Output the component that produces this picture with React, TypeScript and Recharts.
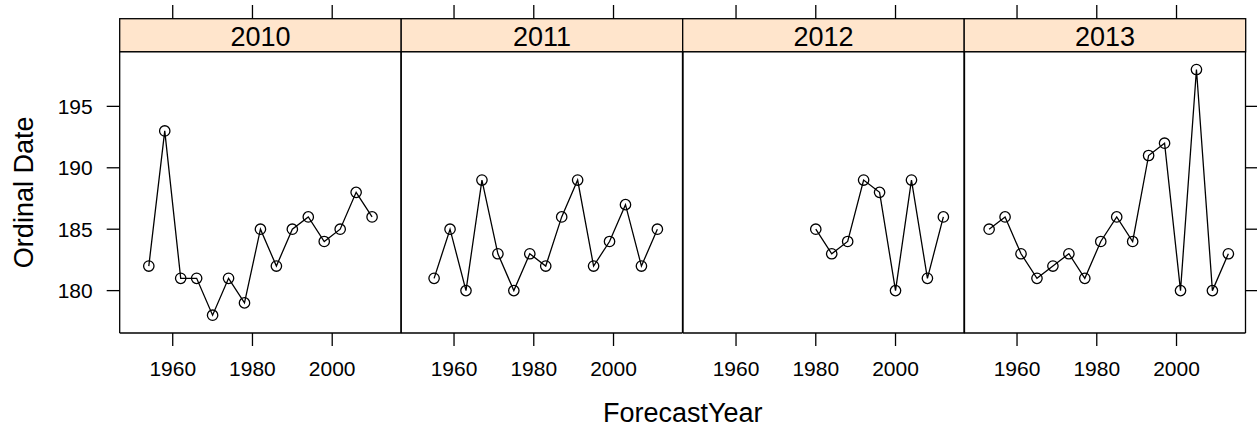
import React from "react";
import { LineChart, Line, XAxis, YAxis } from "recharts";

// panel titles
const panels = ["2010", "2011", "2012", "2013"];

// ForecastYear / Ordinal Date per panel
const years2010 = [1954, 1958, 1962, 1966, 1970, 1974, 1978, 1982, 1986, 1990, 1994, 1998, 2002, 2006, 2010];
const dates2010 = [182, 193, 181, 181, 178, 181, 179, 185, 182, 185, 186, 184, 185, 188, 186];

const years2011 = [1955, 1959, 1963, 1967, 1971, 1975, 1979, 1983, 1987, 1991, 1995, 1999, 2003, 2007, 2011];
const dates2011 = [181, 185, 180, 189, 183, 180, 183, 182, 186, 189, 182, 184, 187, 182, 185];

const years2012 = [1980, 1984, 1988, 1992, 1996, 2000, 2004, 2008, 2012];
const dates2012 = [185, 183, 184, 189, 188, 180, 189, 181, 186];

const years2013 = [1953, 1957, 1961, 1965, 1969, 1973, 1977, 1981, 1985, 1989, 1993, 1997, 2001, 2005, 2009, 2013];
const dates2013 = [185, 186, 183, 181, 182, 183, 181, 184, 186, 184, 191, 192, 180, 198, 180, 183];

const xTicks = [1960, 1980, 2000];
const yTicks = [180, 185, 190, 195];

const seriesYears = [years2010, years2011, years2012, years2013];
const seriesDates = [dates2010, dates2011, dates2012, dates2013];

const W = 1257;
const H = 430;
const panelLeft = 119.7;
const panelW = 281.5;
const stripTop = 18.7;
const plotTop = 51.7;
const plotBottom = 333;
const font = "'Liberation Sans', Arial, sans-serif";
const line = { stroke: "#000", strokeWidth: 1.3 };
const noLabel = () => <g />;

function Panel({ i }: { i: number }) {
  const data = seriesYears[i].map((y, k) => ({ year: y, date: seriesDates[i][k] }));
  const padL = i === 0 ? panelLeft : 6;
  const padR = i === 3 ? 12 : 6;
  const left = panelLeft + i * panelW - padL;
  const width = padL + panelW + padR;

  return (
    <div style={{ position: "absolute", left, top: 0 }}>
      <LineChart width={width} height={H} data={data} margin={{ top: 0, right: 0, bottom: 0, left: 0 }}>
        <XAxis
          dataKey="year"
          type="number"
          domain={[1946.7, 2017.3]}
          ticks={xTicks}
          allowDataOverflow
          height={H - plotBottom}
          tickSize={13}
          tickMargin={15}
          axisLine={line}
          tickLine={line}
          tick={{ fill: "#000", fontSize: 21, fontFamily: font }}
        />
        {/* top ticks run up past the strip (the strip is drawn over them) */}
        <XAxis
          xAxisId="top"
          dataKey="year"
          orientation="top"
          type="number"
          domain={[1946.7, 2017.3]}
          ticks={xTicks}
          allowDataOverflow
          height={plotTop}
          axisLine={line}
          tickLine={line}
          tickSize={plotTop - 5}
          tick={noLabel}
        />
        <YAxis
          yAxisId="left"
          type="number"
          domain={[176.55, 199.45]}
          ticks={yTicks}
          allowDataOverflow
          width={padL}
          axisLine={line}
          tickLine={i === 0 ? line : false}
          tickSize={13}
          tickMargin={14}
          tick={i === 0 ? { fill: "#000", fontSize: 21, fontFamily: font } : noLabel}
        />
        <YAxis
          yAxisId="right"
          orientation="right"
          type="number"
          domain={[176.55, 199.45]}
          ticks={yTicks}
          allowDataOverflow
          width={padR}
          axisLine={line}
          tickLine={i === 3 ? line : false}
          tickSize={12}
          tick={noLabel}
        />
        {/* invisible copy so the top axis gets a scale */}
        <Line
          xAxisId="top"
          yAxisId="left"
          dataKey="date"
          stroke="none"
          dot={false}
          activeDot={false}
          isAnimationActive={false}
        />
        <Line
          yAxisId="left"
          dataKey="date"
          stroke="#000"
          strokeWidth={1.3}
          dot={{ r: 5.2, fill: "none", stroke: "#000", strokeWidth: 1.3 }}
          activeDot={false}
          isAnimationActive={false}
        />
      </LineChart>
    </div>
  );
}

export default function App() {
  return (
    <div style={{ position: "absolute", left: 0, top: 0, width: W, height: H, background: "#fff", overflow: "hidden" }}>
      {panels.map((p, i) => (
        <Panel key={p} i={i} />
      ))}
      <svg width={W} height={H} style={{ position: "absolute", left: 0, top: 0, pointerEvents: "none" }}>
        {panels.map((p, i) => (
          <g key={p}>
            <rect
              x={panelLeft + i * panelW}
              y={stripTop}
              width={panelW}
              height={plotTop - stripTop}
              fill="#ffe5cc"
              stroke="#000"
              strokeWidth={1.3}
            />
            <text
              x={panelLeft + i * panelW + panelW / 2}
              y={45.7}
              textAnchor="middle"
              fontSize={27}
              fontFamily={font}
              fill="#000"
            >
              {p}
            </text>
          </g>
        ))}
        <text x={panelLeft + 2 * panelW} y={421.7} textAnchor="middle" fontSize={27} fontFamily={font} fill="#000">
          ForecastYear
        </text>
        <text
          transform={`translate(33.3, ${(plotTop + plotBottom) / 2}) rotate(-90)`}
          textAnchor="middle"
          fontSize={27}
          fontFamily={font}
          fill="#000"
        >
          Ordinal Date
        </text>
      </svg>
    </div>
  );
}
